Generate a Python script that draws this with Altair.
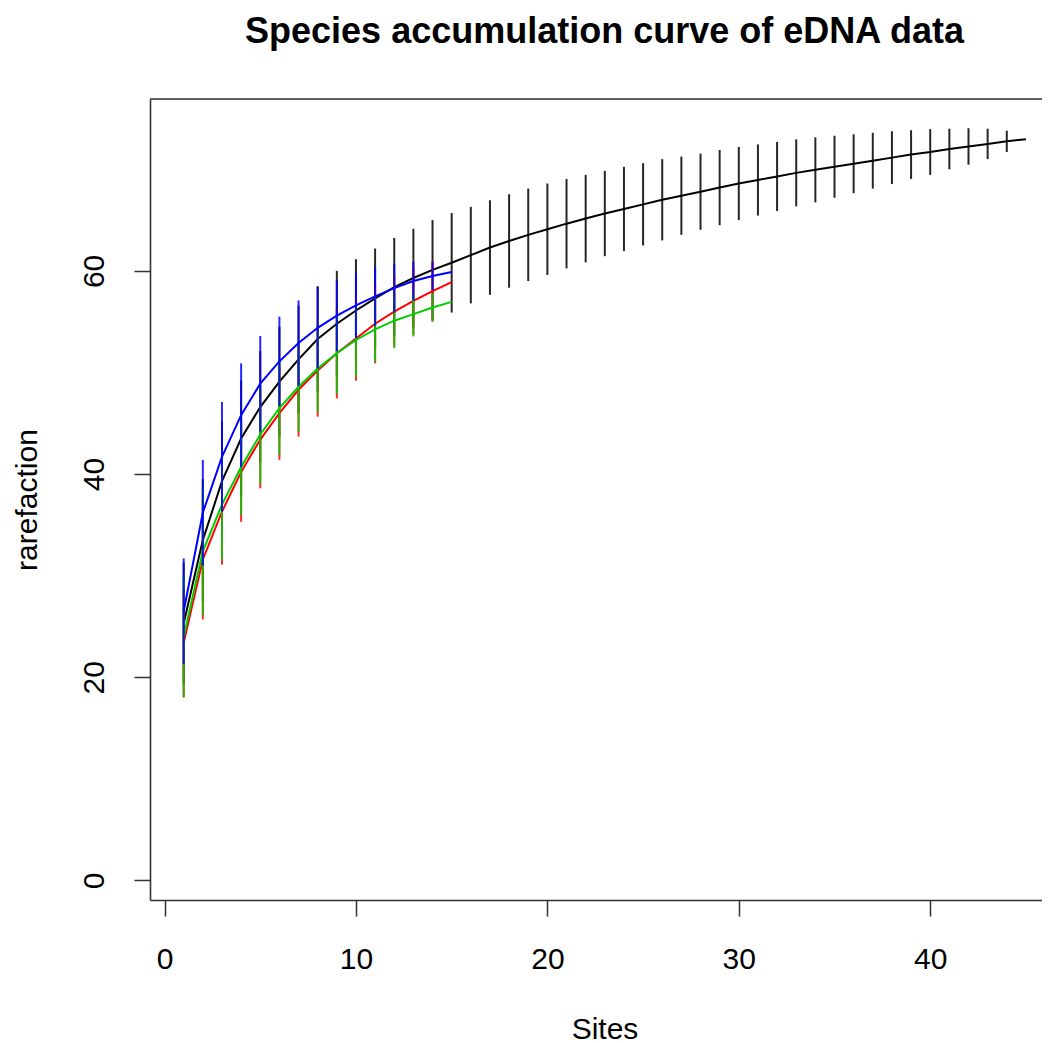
import altair as alt
import pandas as pd

# ---- data ----
sites_all = list(range(1, 46))
sites_sub = list(range(1, 16))

black_mean = [25.3, 33.5, 39.3, 43.5, 46.6, 49.1, 51.3, 53.3, 54.8, 56.1,
              57.3, 58.4, 59.3, 60.1, 60.8, 61.55, 62.3, 62.95, 63.55, 64.1,
              64.65, 65.15, 65.65, 66.1, 66.55, 67.0, 67.4, 67.8, 68.2, 68.6,
              68.95, 69.3, 69.65, 69.95, 70.25, 70.55, 70.85, 71.15, 71.45, 71.7,
              72.0, 72.25, 72.5, 72.75, 72.96]
black_sd2 = [6.0, 6.0, 5.9, 5.7, 5.5, 5.4, 5.3, 5.2, 5.2, 5.05,
             4.9, 4.85, 4.85, 4.9, 4.9, 4.75, 4.65, 4.6, 4.55, 4.5,
             4.4, 4.3, 4.2, 4.15, 4.05, 4.0, 3.85, 3.75, 3.7, 3.6,
             3.5, 3.4, 3.3, 3.2, 3.05, 2.9, 2.75, 2.6, 2.4, 2.25,
             2.0, 1.8, 1.5, 1.05, 0.0]

red_mean = [23.4, 31.6, 36.3, 40.2, 43.4, 46.0, 48.3, 50.2, 51.9, 53.35,
            54.8, 56.0, 57.05, 58.0, 58.9]
red_sd2 = [5.4, 5.9, 5.2, 4.9, 4.8, 4.6, 4.6, 4.55, 4.45, 4.15,
           3.9, 3.5, 3.35, 3.0, 0.0]

green_mean = [24.0, 32.4, 37.0, 40.7, 43.9, 46.5, 48.6, 50.4, 51.9, 53.2,
              54.25, 55.1, 55.75, 56.4, 56.95]
green_sd2 = [5.9, 6.3, 5.4, 4.7, 4.8, 4.6, 4.4, 4.3, 4.0, 3.6,
             3.2, 2.7, 2.2, 1.4, 0.0]

blue_mean = [26.5, 36.2, 41.7, 45.8, 48.9, 51.1, 52.9, 54.4, 55.6, 56.6,
             57.5, 58.3, 59.0, 59.5, 59.9]
blue_sd2 = [5.2, 5.2, 5.4, 5.1, 4.7, 4.4, 4.2, 4.0, 3.5, 3.2,
            2.9, 2.4, 1.9, 1.4, 0.0]

x_ticks = [0, 10, 20, 30, 40]
y_ticks = [0, 20, 40, 60]
title_text = "Species accumulation curve of eDNA data"

series = [
    ("black", "#000000", sites_all, black_mean, black_sd2),
    ("red", "#FF0000", sites_sub, red_mean, red_sd2),
    ("green", "#00CD00", sites_sub, green_mean, green_sd2),
    ("blue", "#0000FF", sites_sub, blue_mean, blue_sd2),
]

rows = []
for name, _, xs, ms, sds in series:
    for x, m, s in zip(xs, ms, sds):
        rows.append({"series": name, "site": x, "mean": m, "lo": m - s, "hi": m + s, "sd": s})
df = pd.DataFrame(rows)

W, H = 892, 801
FONT = "Liberation Sans"
AX = "#333333"

x_scale = alt.Scale(domain=[-0.76, 45.84], nice=False, zero=False)
y_scale = alt.Scale(domain=[-1.92, 76.92], nice=False, zero=False)

x_axis = alt.Axis(values=x_ticks, grid=False, tickSize=16, tickWidth=1.5, tickColor=AX,
                  domainColor=AX, domainWidth=1.6, labelFont=FONT, labelFontSize=30,
                  labelColor="#000000", labelPadding=52, labelBaseline="alphabetic",
                  labelAlign="center", labelFlush=False, labelOverlap=False,
                  title="Sites", titleFont=FONT, titleFontSize=30, titleFontWeight="normal",
                  titleColor="#000000", titleX=454.5, titleY=138, titleAngle=0,
                  titleBaseline="alphabetic", titleAlign="center")
y_axis = alt.Axis(values=y_ticks, grid=False, tickSize=16, tickWidth=1.5, tickColor=AX,
                  domainColor=AX, domainWidth=1.6, labelFont=FONT, labelFontSize=30,
                  labelColor="#000000", labelPadding=31, labelAngle=270,
                  labelBaseline="alphabetic", labelAlign="center", labelFlush=False,
                  labelOverlap=False, title="rarefaction", titleFont=FONT, titleFontSize=30,
                  titleFontWeight="normal", titleColor="#000000", titleX=-114, titleY=400.5,
                  titleAngle=270, titleBaseline="alphabetic", titleAlign="center")

base = alt.Chart(df)
layers = []
for name, color, _, _, _ in series:
    bars = base.transform_filter(
        (alt.datum.series == name) & (alt.datum.sd > 0)
    ).mark_rule(color=color, strokeWidth=2, opacity=0.85).encode(
        x=alt.X("site:Q", scale=x_scale, axis=x_axis),
        y=alt.Y("lo:Q", scale=y_scale, axis=y_axis),
        y2="hi:Q",
    )
    line = base.transform_filter(alt.datum.series == name).mark_line(
        color=color, strokeWidth=2
    ).encode(
        x=alt.X("site:Q", scale=x_scale, axis=x_axis),
        y=alt.Y("mean:Q", scale=y_scale, axis=y_axis),
        order="site:Q",
    )
    layers += [bars, line]

top_border = alt.Chart(pd.DataFrame({"k": [0]})).mark_rule(color=AX, strokeWidth=1.6).encode(
    x=alt.value(0), x2=alt.value(W), y=alt.value(0)
)
title_mark = alt.Chart(pd.DataFrame({"t": [title_text]})).mark_text(
    font=FONT, fontSize=36, fontWeight="bold", align="center", baseline="alphabetic", color="#000000"
).encode(x=alt.value(454.5), y=alt.value(-56), text="t:N")

chart = alt.layer(*layers, top_border, title_mark).properties(
    width=W, height=H,
    autosize=alt.AutoSizeParams(type="none"),
    padding={"left": 142, "top": 91, "right": 0, "bottom": 145},
).configure_view(strokeWidth=0).configure(background="white")

chart.save("out.html", embed_options={"renderer": "svg", "actions": False})
